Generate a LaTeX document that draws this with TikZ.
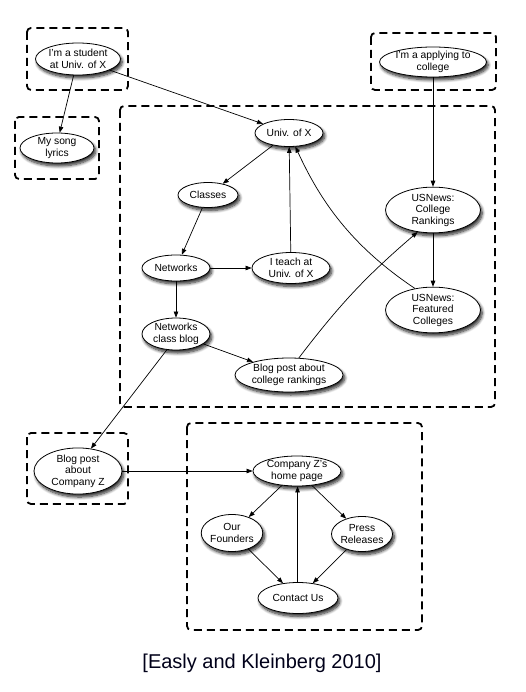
\documentclass[tikz,border=0pt]{standalone}
\usepackage{fontspec}
\setmainfont{Liberation Sans}
\usetikzlibrary{shapes.geometric,arrows.meta,shadows.blur}
\tikzset{
 pg/.style={ellipse, draw=black, line width=0.8pt, fill=white, inner sep=0pt, align=center,
   font=\fontsize{10.3}{11.5}\selectfont,
   blur shadow={shadow xshift=1.8pt, shadow yshift=-3pt, shadow blur steps=8, shadow blur radius=3pt, shadow opacity=85}},
 grp/.style={draw=black, line width=1.8pt, dash pattern=on 8pt off 5pt, rounded corners=4pt},
 lnk/.style={line width=0.7pt, -{Triangle[length=6pt,width=4.5pt]}}
}
\begin{document}
\begin{tikzpicture}[x=1pt,y=-1pt]
\useasboundingbox (0,0) rectangle (525,692);
% groups
\draw[grp] (27,28) rectangle (128,90);
\draw[grp] (15,117) rectangle (99,179);
\draw[grp] (371,33) rectangle (496,90);
\draw[grp] (120,106) rectangle (495,407);
\draw[grp] (27,433) rectangle (128,504);
\draw[grp] (187,423) rectangle (422,630);
% pages
\node[pg, minimum width=85pt, minimum height=32pt] (stud) at (78,59) {I'm a student\\at Univ. of X};
\node[pg, minimum width=74pt, minimum height=30pt] (lyr) at (57,148) {My song\\lyrics};
\node[pg, minimum width=107pt, minimum height=30pt] (appl) at (433,62) {I'm a applying to\\college};
\node[pg, minimum width=68pt, minimum height=27pt] (univ) at (289,133) {Univ. of X};
\node[pg, minimum width=60pt, minimum height=25pt] (cls) at (208,195) {Classes};
\node[pg, minimum width=68pt, minimum height=26pt] (net) at (176,268) {Networks};
\node[pg, minimum width=78pt, minimum height=31pt] (teach) at (291,268) {I teach at\\Univ. of X};
\node[pg, minimum width=68pt, minimum height=32pt] (cblog) at (176,334) {Networks\\class blog};
\node[pg, minimum width=108pt, minimum height=34pt] (bcr) at (289,375) {Blog post about\\college rankings};
\node[pg, minimum width=95pt, minimum height=44pt] (rank) at (433,210) {USNews:\\College\\Rankings};
\node[pg, minimum width=95pt, minimum height=44pt] (feat) at (433,310) {USNews:\\Featured\\Colleges};
\node[pg, minimum width=88pt, minimum height=43pt] (bz) at (78,471) {Blog post\\about\\Company Z};
\node[pg, minimum width=88pt, minimum height=30pt] (home) at (297,471) {Company Z's\\home page};
\node[pg, minimum width=60pt, minimum height=37pt] (found) at (232,533) {Our\\Founders};
\node[pg, minimum width=61pt, minimum height=35pt] (press) at (362,534) {Press\\Releases};
\node[pg, minimum width=80pt, minimum height=31pt] (cont) at (298,598) {Contact Us};
% links
\draw[lnk] (stud.255) -- (lyr.80);
\draw[lnk] (stud) -- (univ);
\draw[lnk] (univ) -- (cls);
\draw[lnk] (cls) -- (net);
\draw[lnk] (net) -- (teach);
\draw[lnk] (net) -- (cblog);
\draw[lnk] (teach) -- (univ);
\draw[lnk] (feat.130) .. controls (350,245) and (320,200) .. (univ.-65);
\draw[lnk] (appl) -- (rank);
\draw[lnk] (rank) -- (feat);
\draw[lnk] (bcr.60) to[bend left=6] (rank.235);
\draw[lnk] (cblog) -- (bcr);
\draw[lnk] (cblog.240) -- (bz.60);
\draw[lnk] (bz) -- (home);
\draw[lnk] (home) -- (found);
\draw[lnk] (home) -- (press);
\draw[lnk] (found) -- (cont);
\draw[lnk] (press) -- (cont);
\draw[lnk] (cont.92) -- (home.272);
% caption
\node[font=\fontsize{20}{24}\selectfont, text=black!90!blue] (cap) at (262,663) {[Easly and Kleinberg 2010]};
\end{tikzpicture}
\end{document}
